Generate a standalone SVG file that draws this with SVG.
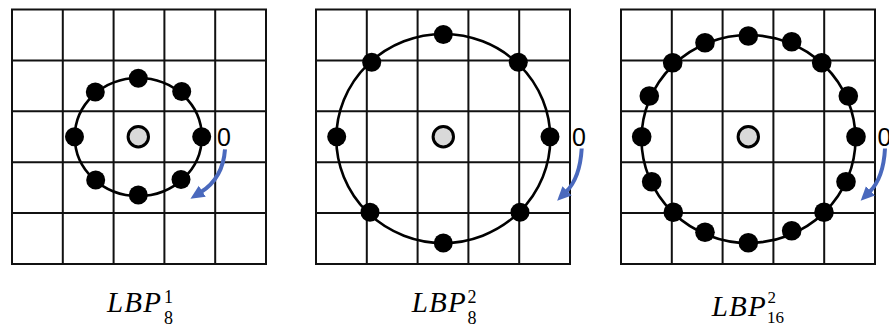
<svg xmlns="http://www.w3.org/2000/svg" width="889" height="327" viewBox="0 0 889 327">
<style>
.grid{fill:none;stroke:#111;stroke-width:2}
.ring{fill:none;stroke:#000;stroke-width:2.6}
.dot{fill:#000}
.ctr{fill:#d9d9d9;stroke:#000;stroke-width:3}
.arr{fill:none;stroke:#4a69bd;stroke-width:4;marker-end:url(#ah)}
.zero{font-family:"Liberation Sans","Open Sans",sans-serif;font-size:25px;fill:#000}
.lbl{font-family:"Liberation Serif","DejaVu Serif",serif;font-style:italic;font-size:29px;fill:#000}
.idx{font-family:"Liberation Serif","DejaVu Serif",serif;font-size:18px;fill:#000}
</style>
<defs>
<marker id="ah" markerUnits="userSpaceOnUse" viewBox="0 0 14 14" markerWidth="14" markerHeight="14" refX="1.5" refY="7" orient="auto">
<path d="M0,0.5 L14,7 L0,13.5 z" fill="#4a69bd"/>
</marker>
<g id="g5">
<rect x="0" y="0" width="254" height="254.5" class="grid"/>
<path class="grid" d="M50.8,0V254.5M101.6,0V254.5M152.4,0V254.5M203.2,0V254.5M0,50.9H254M0,101.8H254M0,152.7H254M0,203.6H254"/>
</g>
</defs>

<g id="panel1">
<use href="#g5" x="12" y="9.5"/>
<ellipse class="ring" cx="138.3" cy="137" rx="63.5" ry="59"/>
<circle class="dot" cx="201.7" cy="136.7" r="9.5"/>
<circle class="dot" cx="181.7" cy="91.5" r="9.5"/>
<circle class="dot" cx="138.3" cy="78.3" r="9.5"/>
<circle class="dot" cx="95.3" cy="92" r="9.5"/>
<circle class="dot" cx="74.5" cy="136.7" r="9.5"/>
<circle class="dot" cx="95.7" cy="180" r="9.5"/>
<circle class="dot" cx="138.3" cy="195" r="9.5"/>
<circle class="dot" cx="181" cy="179.5" r="9.5"/>
<circle class="ctr" cx="138.3" cy="136.7" r="10.2"/>
<text class="zero" x="217" y="145.7">0</text>
</g>

<g id="panel2">
<use href="#g5" x="316" y="9.5"/>
<ellipse class="ring" cx="443.3" cy="138.5" rx="107" ry="104.5"/>
<circle class="dot" cx="550" cy="136.7" r="9.5"/>
<circle class="dot" cx="518.3" cy="62.3" r="9.5"/>
<circle class="dot" cx="443.3" cy="34.5" r="9.5"/>
<circle class="dot" cx="371.7" cy="62.3" r="9.5"/>
<circle class="dot" cx="336.7" cy="136.7" r="9.5"/>
<circle class="dot" cx="370" cy="212.3" r="9.5"/>
<circle class="dot" cx="443.3" cy="243" r="9.5"/>
<circle class="dot" cx="520" cy="212.3" r="9.5"/>
<circle class="ctr" cx="443.3" cy="136.7" r="10.2"/>
<text class="zero" x="572" y="145.7">0</text>
</g>

<g id="panel3">
<use href="#g5" x="621" y="9.5"/>
<ellipse class="ring" cx="748.5" cy="139" rx="107" ry="104"/>
<circle class="dot" cx="748.3" cy="36" r="9.8"/>
<circle class="dot" cx="791.7" cy="41.7" r="9.8"/>
<circle class="dot" cx="821.7" cy="62.7" r="9.8"/>
<circle class="dot" cx="848.3" cy="96" r="9.8"/>
<circle class="dot" cx="856" cy="136.7" r="9.8"/>
<circle class="dot" cx="846" cy="181.7" r="9.8"/>
<circle class="dot" cx="824" cy="212.3" r="9.8"/>
<circle class="dot" cx="791.7" cy="230.7" r="9.8"/>
<circle class="dot" cx="748.3" cy="242.7" r="9.8"/>
<circle class="dot" cx="705" cy="232.3" r="9.8"/>
<circle class="dot" cx="673.3" cy="212.3" r="9.8"/>
<circle class="dot" cx="651.7" cy="181.7" r="9.8"/>
<circle class="dot" cx="641.7" cy="136.7" r="9.8"/>
<circle class="dot" cx="649.3" cy="96" r="9.8"/>
<circle class="dot" cx="672.7" cy="62.7" r="9.8"/>
<circle class="dot" cx="705" cy="42.7" r="9.8"/>
<circle class="ctr" cx="748.3" cy="136.7" r="10.2"/>
<text class="zero" x="877.4" y="145.7">0</text>
</g>

<g id="connectors">
<path class="arr" d="M225,149.3 Q223,178 201,192"/>
<path class="arr" d="M581.7,148.5 Q580,178 566,192"/>
<path class="arr" d="M885,148.5 Q883.5,178 869.5,192"/>
</g>

<g id="label1">
<text class="lbl" x="107" y="311.5" textLength="54" lengthAdjust="spacing">LBP</text>
<text class="idx" x="164" y="302.5">1</text>
<text class="idx" x="164" y="324">8</text>
</g>
<g id="label2">
<text class="lbl" x="411.7" y="311.5" textLength="54" lengthAdjust="spacing">LBP</text>
<text class="idx" x="467.5" y="302.5">2</text>
<text class="idx" x="467.5" y="324">8</text>
</g>
<g id="label3">
<text class="lbl" x="711.7" y="315.5" textLength="54" lengthAdjust="spacing">LBP</text>
<text class="idx" x="767.5" y="303" style="font-size:17px">2</text>
<text class="idx" x="767" y="323" style="font-size:17px">16</text>
</g>
</svg>
